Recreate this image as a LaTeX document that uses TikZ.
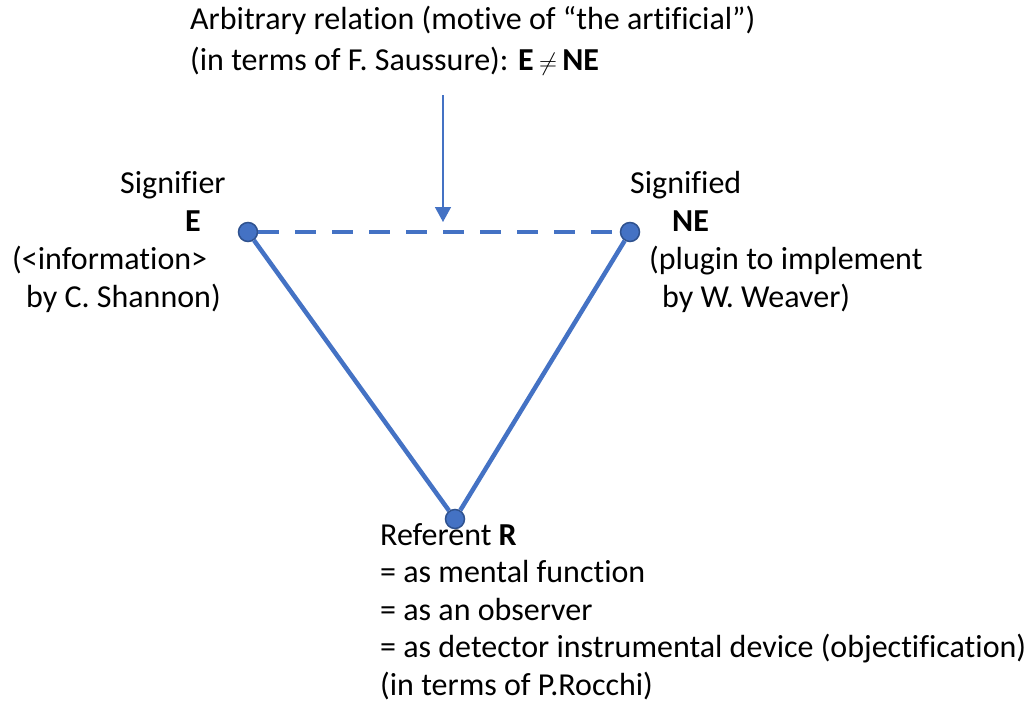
\documentclass[tikz,border=0pt]{standalone}
\usepackage{fontspec}
\setmainfont{Carlito}[Ligatures=NoCommon]
\usetikzlibrary{arrows.meta}
\definecolor{LinkBlue}{RGB}{68, 114, 196}
\definecolor{DotEdge}{RGB}{47, 82, 143}

\begin{document}
\begin{tikzpicture}[
    x=1pt, y=-1pt,
    dot/.style={circle, draw=DotEdge, fill=LinkBlue, line width=1.5pt, minimum size=19pt, inner sep=0pt},
    link/.style={draw=LinkBlue, line width=4.5pt},
    dashlink/.style={link, dash pattern=on 21pt off 16pt},
    pointer/.style={-{Triangle[length=15pt, width=16pt]}, draw=LinkBlue, line width=1.5pt},
    txt/.style={anchor=base west, inner sep=0pt, align=left, font=\fontsize{32}{37.7}\selectfont}
]
    \useasboundingbox (0,0) rectangle (1031,707);

    % Triangle corners
    \node[dot] (E) at (248,232) {};
    \node[dot] (NE) at (630,232) {};
    \node[dot] (R) at (455,519) {};

    % Sides
    \draw[dashlink] (E) -- (NE);
    \draw[link] (E) -- (R);
    \draw[link] (NE) -- (R);

    % Pointer from the note
    \coordinate (tail) at (443,95);
    \coordinate (tip) at (443,222);
    \draw[pointer] (tail) -- (tip);

    % Labels (base anchor = last line)
    \node[txt, font=\fontsize{32}{41}\selectfont] (note) at (190,70) {Arbitrary relation (motive of “the artificial”)\\(in terms of F. Saussure): \textbf{E}\,$\neq$\,\textbf{NE}};
    \node[txt] (signifier) at (12,307) {\hspace*{108pt}Signifier\\\hspace*{173pt}\textbf{E}\\(<information>\\\hspace*{14pt}by C. Shannon)};
    \node[txt] (signified) at (630,307) {Signified\\\hspace*{42pt}\textbf{NE}\\\hspace*{19pt}(plugin to implement\\\hspace*{32pt}by W. Weaver)};
    \node[txt, font=\fontsize{32}{37.5}\selectfont] (referent) at (380,695) {Referent \textbf{R}\\= as mental function\\= as an observer\\= as detector instrumental device (objectification)\\(in terms of P.Rocchi)};
\end{tikzpicture}
\end{document}
